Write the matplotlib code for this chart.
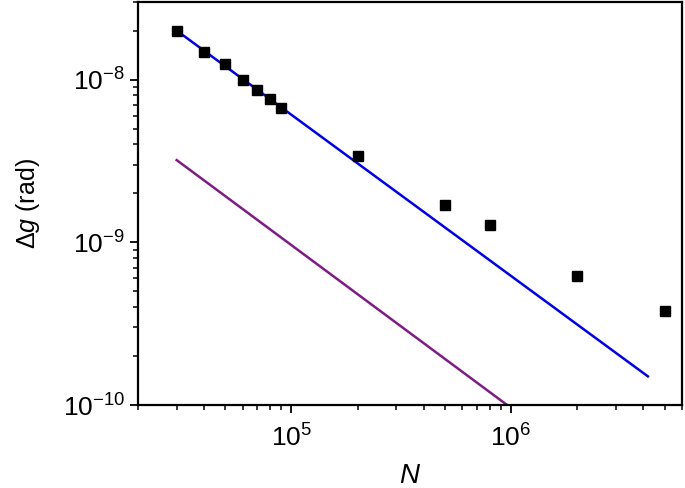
import matplotlib
matplotlib.use("Agg")
import matplotlib.pyplot as plt

# measured points
N = [3e4, 4e4, 5e4, 6e4, 7e4, 8e4, 9e4, 2e5, 5e5, 8e5, 2e6, 5e6]
dg = [2.0e-8, 1.48e-8, 1.25e-8, 9.9e-9, 8.6e-9, 7.6e-9, 6.7e-9,
      3.4e-9, 1.7e-9, 1.27e-9, 6.2e-10, 3.8e-10]

# fitted lines
blue_N = [3e4, 4.2e6]
blue_dg = [2.0e-8, 1.5e-10]
purple_N = [3e4, 9.6e5]
purple_dg = [3.2e-9, 1.0e-10]

plt.rcParams["font.family"] = ["Liberation Sans", "DejaVu Sans"]
plt.rcParams["mathtext.fontset"] = "custom"
plt.rcParams["mathtext.rm"] = "Liberation Sans"
plt.rcParams["mathtext.it"] = "Liberation Sans:italic"

fig = plt.figure(figsize=(6.85, 4.88), dpi=100)
ax = fig.add_axes([0.2015, 0.170, 0.794, 0.826])

ax.plot(blue_N, blue_dg, color="#0000ee", lw=1.8)
ax.plot(purple_N, purple_dg, color="#801a86", lw=1.8)
ax.plot(N, dg, "s", color="black", ms=6.5, clip_on=False)

ax.set_xscale("log")
ax.set_yscale("log")
ax.set_xlim(2e4, 6e6)
ax.set_ylim(1e-10, 3e-8)

ax.set_xlabel("$N$", fontsize=20, labelpad=8)
ax.set_ylabel(r"Δ$g$ (rad)", fontsize=18, labelpad=15)

ax.tick_params(which="major", length=6, width=1.3, labelsize=19)
ax.tick_params(axis="x", which="major", pad=8)
ax.tick_params(which="minor", length=3.5, width=1.1)
for s in ax.spines.values():
    s.set_linewidth(1.6)

fig.savefig("out.png", dpi=100)
